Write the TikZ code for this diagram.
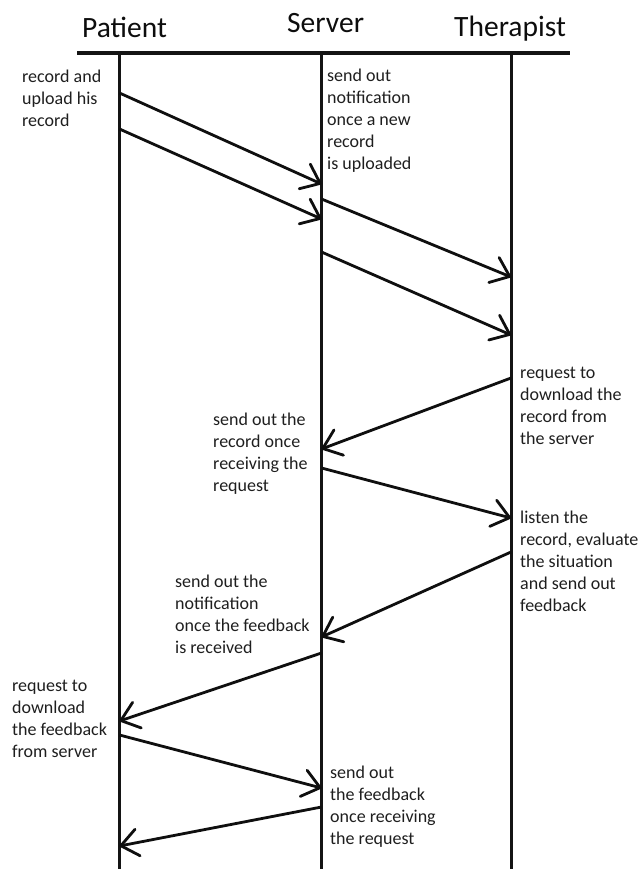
\documentclass[tikz,border=0pt]{standalone}
\usepackage{fontspec}
\setmainfont{Carlito}
\usetikzlibrary{arrows.meta}
\definecolor{txt}{HTML}{1E1E1E}
\tikzset{
  head/.style={font=\fontsize{29.5}{34}\selectfont, text=black!95, anchor=base west, inner sep=0pt},
  note/.style={font=\fontsize{18}{22}\selectfont, text=txt, align=left, anchor=base west, inner sep=0pt},
  life/.style={line width=3pt, black!92},
  topline/.style={line width=3.3pt, black!92},
  msg/.style={line width=2.8pt, black!94, -{Straight Barb[length=17pt,width=27pt,round]}},
}
\begin{document}
\begin{tikzpicture}[x=1pt,y=-1pt]
\useasboundingbox (0,0) rectangle (642,869);
% headers
\node[head] (hp) at (82,38) {Patient};
\node[head] (hs) at (287,33) {Server};
\node[head] (ht) at (454,37) {Therapist};
% header line
\coordinate (l0) at (77,53);
\coordinate (l1) at (570,53);
\draw[topline] (l0) -- (l1);
% lifelines
\coordinate (pT) at (119.5,53);
\coordinate (pB) at (119.5,869);
\coordinate (sT) at (321.5,53);
\coordinate (sB) at (321.5,869);
\coordinate (tT) at (511,53);
\coordinate (tB) at (511,869);
\draw[life] (pT) -- (pB);
\draw[life] (sT) -- (sB);
\draw[life] (tT) -- (tB);
% message end points
\coordinate (a1) at (119.5,93);  \coordinate (b1) at (321.5,184);
\coordinate (a2) at (119.5,129); \coordinate (b2) at (321.5,219);
\coordinate (a3) at (321.5,199); \coordinate (b3) at (511,277);
\coordinate (a4) at (321.5,252); \coordinate (b4) at (511,335);
\coordinate (a5) at (511,378);   \coordinate (b5) at (321.5,449);
\coordinate (a6) at (321.5,468); \coordinate (b6) at (511,518);
\coordinate (a7) at (511,552);   \coordinate (b7) at (321.5,637);
\coordinate (a8) at (321.5,653); \coordinate (b8) at (119.5,721);
\coordinate (a9) at (119.5,735); \coordinate (b9) at (321.5,788);
\coordinate (a10) at (321.5,807); \coordinate (b10) at (119.5,846);
\foreach \i in {1,...,10} {\draw[msg] (a\i) -- (b\i);}
% notes (anchor = baseline of the last line)
\node[note] (n1) at (22,127) {record and\\upload his\\record};
\node[note] (n2) at (327,170) {send out\\notification\\once a new\\record\\is uploaded};
\node[note] (n3) at (520,444) {request to\\download the\\record from\\the server};
\node[note] (n4) at (213,491) {send out the\\record once\\receiving the\\request};
\node[note] (n5) at (520,611) {listen the\\record, evaluate\\the situation\\and send out\\feedback};
\node[note] (n6) at (175,653) {send out the\\notification\\once the feedback\\is received};
\node[note] (n7) at (12,757) {request to\\download\\the feedback\\from server};
\node[note] (n8) at (330,844) {send out\\the feedback\\once receiving\\the request};
\end{tikzpicture}
\end{document}
